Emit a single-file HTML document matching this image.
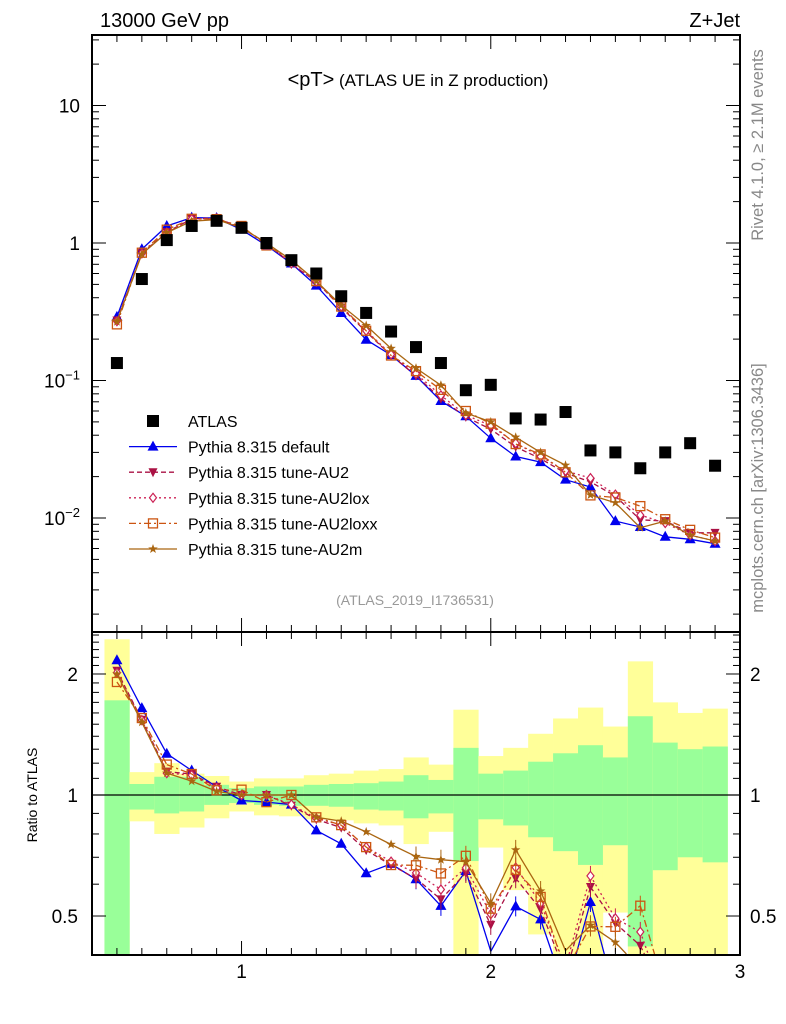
<!DOCTYPE html>
<html><head><meta charset="utf-8"><style>
html,body{margin:0;padding:0;background:#fff;overflow:hidden;width:786px;height:1024px;}
svg{display:block;}
svg text{font-family:"Liberation Sans",sans-serif;}
</style></head><body>
<svg id="c" width="786" height="1024" viewBox="0 0 786 1024" xmlns="http://www.w3.org/2000/svg">
<text x="100" y="27" font-size="20">13000 GeV pp</text>
<text x="740" y="27" font-size="20" text-anchor="end">Z+Jet</text>
<text x="418" y="86" font-size="17" text-anchor="middle"><tspan font-size="20">&lt;pT&gt;</tspan> (ATLAS UE in Z production)</text>
<text x="415" y="605" font-size="14" fill="#999" text-anchor="middle">(ATLAS_2019_I1736531)</text>
<text transform="translate(763,145) rotate(-90)" font-size="16.5" fill="#888" text-anchor="middle">Rivet 4.1.0, ≥ 2.1M events</text>
<text transform="translate(763,488) rotate(-90)" font-size="16.5" fill="#888" text-anchor="middle">mcplots.cern.ch [arXiv:1306.3436]</text>
<text transform="translate(37,795) rotate(-90)" font-size="14" text-anchor="middle">Ratio to ATLAS</text>
<g id="bands"></g><g id="marks"></g><g id="axes"></g><g id="legend"></g>
</svg>
<script>
const xs=[0.5,0.6,0.7,0.8,0.9,1.0,1.1,1.2,1.3,1.4,1.5,1.6,1.7,1.8,1.9,2.0,2.1,2.2,2.3,2.4,2.5,2.6,2.7,2.8,2.9];
const atlas=[0.134,0.547,1.05,1.33,1.45,1.29,1.0,0.75,0.6,0.41,0.31,0.227,0.175,0.134,0.085,0.093,0.053,0.052,0.059,0.031,0.030,0.023,0.030,0.035,0.024];
const pyDefault=[0.29,0.9,1.33,1.53,1.52,1.25,0.96,0.71,0.49,0.31,0.198,0.153,0.108,0.071,0.055,0.038,0.028,0.0255,0.019,0.0168,0.0095,0.0086,0.0073,0.007,0.0065];
const pyAU2=[0.273,0.842,1.20,1.50,1.52,1.29,1.0,0.705,0.522,0.34,0.226,0.152,0.1085,0.0737,0.0544,0.0442,0.0329,0.027,0.0212,0.0183,0.0144,0.0097,0.0095,0.0078,0.0078];
const pyAU2lox=[0.27,0.84,1.19,1.49,1.51,1.29,1.0,0.71,0.525,0.345,0.23,0.155,0.112,0.078,0.056,0.047,0.035,0.028,0.022,0.0195,0.0148,0.0105,0.0092,0.0075,0.0068];
const pyAU2loxx=[0.256,0.85,1.25,1.50,1.49,1.33,0.96,0.75,0.528,0.345,0.23,0.152,0.117,0.0855,0.060,0.0485,0.0345,0.029,0.0215,0.0146,0.0141,0.0122,0.0098,0.0082,0.0072];
const pyAU2m=[0.268,0.83,1.19,1.44,1.48,1.29,1.0,0.75,0.528,0.353,0.251,0.171,0.123,0.0925,0.058,0.050,0.0387,0.030,0.0242,0.0147,0.0129,0.0085,0.0095,0.0075,0.0068];
const yelHi=[2.44,1.14,1.2,1.13,1.115,1.08,1.10,1.10,1.12,1.13,1.15,1.16,1.24,1.19,1.63,1.25,1.31,1.42,1.55,1.65,1.48,2.15,1.70,1.6,1.64];
const grnHi=[1.72,1.065,1.11,1.11,1.06,1.04,1.05,1.05,1.06,1.065,1.07,1.08,1.12,1.09,1.31,1.13,1.15,1.21,1.27,1.33,1.24,1.57,1.35,1.30,1.32];
const grnLo=[0.3,0.92,0.9,0.91,0.945,0.955,0.945,0.94,0.94,0.935,0.92,0.915,0.875,0.90,0.685,0.87,0.84,0.785,0.725,0.67,0.75,0.42,0.65,0.70,0.68];
const yelLo=[0.3,0.86,0.8,0.83,0.875,0.91,0.89,0.885,0.87,0.865,0.85,0.84,0.755,0.81,0.3,0.74,0.58,0.45,0.3,0.3,0.51,0.3,0.3,0.3,0.3];
const xTicks=[1,2,3];
const mainTicks=[10,1,0.1,0.01];
const ratioTicks=[2,1,0.5];

const NS="http://www.w3.org/2000/svg";
const L=92,R=740,T1=35,B1=632,T2=632,B2=955;
const X=v=>L+(v-0.4)/2.6*(R-L);
const Y=v=>243-Math.log10(v)*137.5;
const YR=v=>795-Math.log10(v)*402;
const cl=(v,a,b)=>Math.max(a,Math.min(b,v));
function mk(tag,attrs,parent){const e=document.createElementNS(NS,tag);for(const k in attrs)e.setAttribute(k,attrs[k]);parent.appendChild(e);return e;}
const bands=document.getElementById('bands'),marks=document.getElementById('marks'),axes=document.getElementById('axes'),leg=document.getElementById('legend');
const hw=0.05;
xs.forEach((x,i)=>{
  const yt=cl(YR(yelHi[i]),T2,B2),yb=cl(YR(yelLo[i]),T2,B2),gt=cl(YR(grnHi[i]),T2,B2),gb=cl(YR(grnLo[i]),T2,B2);
  const y=mk('rect',{x:X(x-hw),y:yt,width:X(x+hw)-X(x-hw)+0.3,height:yb-yt,fill:'#ffff99'},bands);
  
  
  const g=mk('rect',{x:X(x-hw),y:gt,width:X(x+hw)-X(x-hw)+0.3,height:gb-gt,fill:'#99ff99'},bands);
  
  
});
mk('line',{x1:L,x2:R,y1:YR(1),y2:YR(1),stroke:'#000','stroke-width':1.2},bands);

const series=[
 {name:'default',v:pyDefault,c:'#0000ee',dash:'',m:'tri'},
 {name:'au2',v:pyAU2,c:'#aa1144',dash:'5,3',m:'tridown'},
 {name:'au2lox',v:pyAU2lox,c:'#cc2255',dash:'2,3',m:'diamond'},
 {name:'au2loxx',v:pyAU2loxx,c:'#cc5511',dash:'7,3,2,3',m:'square'},
 {name:'au2m',v:pyAU2m,c:'#aa6611',dash:'',m:'star'}
];
function marker(g,m,x,y,c){
  let e;
  if(m==='tri')e=mk('path',{d:`M${x},${y-6}L${x+5.5},${y+4}L${x-5.5},${y+4}Z`,fill:c},g);
  else if(m==='tridown')e=mk('path',{d:`M${x},${y+5}L${x+4.5},${y-4}L${x-4.5},${y-4}Z`,fill:c},g);
  else if(m==='diamond')e=mk('path',{d:`M${x},${y-4.5}L${x+3.5},${y}L${x},${y+4.5}L${x-3.5},${y}Z`,fill:'#fff',stroke:c,'stroke-width':1.2},g);
  else if(m==='square')e=mk('rect',{x:x-4.5,y:y-4.5,width:9,height:9,fill:'none',stroke:c,'stroke-width':1.3},g);
  else {let p='';for(let k=0;k<10;k++){const r=k%2?2:5,a=-Math.PI/2+k*Math.PI/5;p+=(k?'L':'M')+(x+r*Math.cos(a)).toFixed(1)+','+(y+r*Math.sin(a)).toFixed(1);}e=mk('path',{d:p+'Z',fill:c},g);}
  return e;
}
// clip a polyline to [top,bot] in y, return path d
function clipPath(pts,top,bot){
  let d='';
  for(let i=0;i<pts.length-1;i++){
    let [x1,y1]=pts[i],[x2,y2]=pts[i+1];
    if((y1>bot&&y2>bot)||(y1<top&&y2<top))continue;
    const f=(yy)=>x1+(x2-x1)*(yy-y1)/(y2-y1);
    let ax=x1,ay=y1,bx=x2,by=y2;
    if(ay>bot){ax=f(bot);ay=bot;} if(ay<top){ax=f(top);ay=top;}
    if(by>bot){bx=f(bot);by=bot;} if(by<top){bx=f(top);by=top;}
    d+=`M${ax.toFixed(1)},${ay.toFixed(1)}L${bx.toFixed(1)},${by.toFixed(1)}`;
  }
  return d;
}
const gm=mk('g',{},marks);


const gr=mk('g',{},marks);


series.forEach(s=>{
  const pm=xs.map((x,i)=>X(x).toFixed(1)+','+Y(s.v[i]).toFixed(1)).join(' ');
  const l1=mk('polyline',{points:pm,fill:'none',stroke:s.c,'stroke-width':1.3,'stroke-dasharray':s.dash},gm);
  
  
  const pr=xs.map((x,i)=>[X(x),YR(s.v[i]/atlas[i])]);
  const l2=mk('path',{d:clipPath(pr,T2+1,B2-1),fill:'none',stroke:s.c,'stroke-width':1.3,'stroke-dasharray':s.dash},gr);
  
  
  xs.forEach((x,i)=>{
    const a=marker(gm,s.m,X(x),Y(s.v[i]),s.c);
    
    
    const yy=YR(s.v[i]/atlas[i]);
    if(yy>B2-6||yy<T2+6)return;
    if(i>11){mk('line',{x1:X(x),x2:X(x),y1:yy-10,y2:Math.min(yy+10,B2-1),stroke:s.c,'stroke-width':1},gr);}
    const b=marker(gr,s.m,X(x),yy,s.c);
    
    
  });
});
xs.forEach((x,i)=>{
  const r=mk('rect',{x:X(x)-6,y:Y(atlas[i])-6,width:12,height:12,fill:'#000'},gm);
  
  
});

[[T1,B1],[T2,B2]].forEach(([t,b])=>mk('rect',{x:L,y:t,width:R-L,height:b-t,fill:'none',stroke:'#000','stroke-width':2},axes));
for(let k=4;k<=30;k++){const v=k/10,x=X(v),maj=(k%10===0),len=maj?14:7;
  [[T1,1],[B1,-1],[T2,1],[B2,-1]].forEach(([y0,d])=>mk('line',{x1:x,x2:x,y1:y0,y2:y0+d*len,stroke:'#000','stroke-width':1},axes));}
xTicks.forEach(v=>{const t=mk('text',{x:X(v),y:978,'font-size':19,'text-anchor':'middle'},axes);t.textContent=v;
  
  });
for(let e=-3;e<=1;e++){for(let m=1;m<=9;m++){const v=m*Math.pow(10,e),y=Y(v);if(y<T1||y>B1)continue;const len=m===1?14:7;
  mk('line',{x1:L,x2:L+len,y1:y,y2:y,stroke:'#000'},axes);mk('line',{x1:R,x2:R-len,y1:y,y2:y,stroke:'#000'},axes);}}
mainTicks.forEach(v=>{const y=Y(v)+7;const t=mk('text',{x:80,y:y,'font-size':19,'text-anchor':'end'},axes);
  
  
  if(v>=1)t.textContent=v;else{const e=Math.round(Math.log10(v));t.textContent='10';const s=mk('tspan',{dy:-8,'font-size':13},t);s.textContent='−'+(-e);}});
for(let k=4;k<=25;k++){const v=k/10,y=YR(v);if(y<T2||y>B2)continue;const len=(k===5||k===10||k===20)?14:7;
  mk('line',{x1:L,x2:L+len,y1:y,y2:y,stroke:'#000'},axes);mk('line',{x1:R,x2:R-len,y1:y,y2:y,stroke:'#000'},axes);}
ratioTicks.forEach(v=>{const y=YR(v)+7;
  const t=mk('text',{x:78,y:y,'font-size':19,'text-anchor':'end'},axes);t.textContent=v;
  
  
  const t2=mk('text',{x:750,y:y,'font-size':19},axes);t2.textContent=v;
  
  });
const labels=['ATLAS','Pythia 8.315 default','Pythia 8.315 tune-AU2','Pythia 8.315 tune-AU2lox','Pythia 8.315 tune-AU2loxx','Pythia 8.315 tune-AU2m'];
labels.forEach((lab,i)=>{const y=421+i*25.6;
  const g=mk('g',{},leg);
  
  
  if(i===0)mk('rect',{x:147,y:y-6,width:12,height:12,fill:'#000'},g);
  else{const s=series[i-1];mk('line',{x1:129,x2:177,y1:y,y2:y,stroke:s.c,'stroke-width':1.3,'stroke-dasharray':s.dash},g);marker(g,s.m,153,y,s.c);}
  const t=mk('text',{x:188,y:y+6,'font-size':16},g);t.textContent=lab;});
</script>
</body></html>
